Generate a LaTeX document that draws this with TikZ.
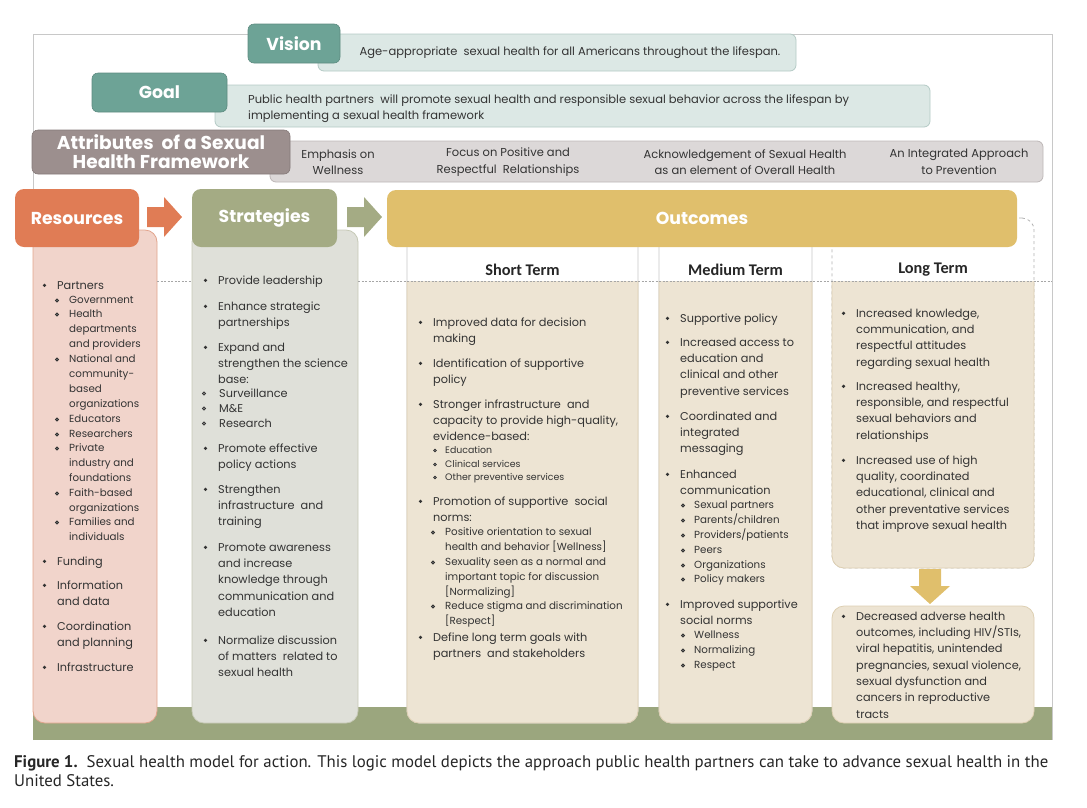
\documentclass[tikz,border=0pt]{standalone}
\usepackage[T1]{fontenc}
\usepackage{fontspec}
\newfontfamily\calib{Carlito}
\newfontfamily\capfont{PT Sans}
\newfontfamily\gfont{Poppins}
\definecolor{cTeal}{HTML}{6DA396}
\definecolor{cTealBox}{HTML}{DCE8E5}
\definecolor{cTealLine}{HTML}{B4CAC5}
\definecolor{cMauve}{HTML}{9C8F8E}
\definecolor{cMauveBox}{HTML}{DCD8D8}
\definecolor{cMauveLine}{HTML}{BDB7B7}
\definecolor{cOrange}{HTML}{E07C55}
\definecolor{cPink}{HTML}{F1D4CB}
\definecolor{cPinkLine}{HTML}{E2A48C}
\definecolor{cOlive}{HTML}{A4AB84}
\definecolor{cSage}{HTML}{DFE0D9}
\definecolor{cSageLine}{HTML}{C6C9B6}
\definecolor{cGold}{HTML}{E0BF6C}
\definecolor{cBeige}{HTML}{EDE4D3}
\definecolor{cBeigeLine}{HTML}{DDCFB2}
\definecolor{cBar}{HTML}{9BA67E}
\definecolor{cFrame}{HTML}{C8C8C8}
\definecolor{txtc}{HTML}{333333}
% main bullet item: name, x, y (centre of the first line), text
\newcommand\Bul[4]{\fill[txtc] (#2-12.5,#3+0.3) circle (1.8);
  \node[txt] (#1) at (#2,#3-6) {\rule{0pt}{10pt}#4};}
% sub item: [bullet offset], name, x, y, text
\newcommand\Sub[5][12]{\draw[txtc, fill=txtc!55, line width=0.8pt] (#3-#1,#4+0.5) circle (1.5);
  \node[stxt] (#2) at (#3,#4-6.3) {\rule{0pt}{10pt}#5};}
% sub item set at main size
\newcommand\SubB[5][15]{\draw[txtc, fill=txtc!55, line width=0.8pt] (#3-#1,#4+0.5) circle (1.6);
  \node[txt] (#2) at (#3,#4-6) {\rule{0pt}{10pt}#5};}
\newcommand\Tin[4]{\draw[txtc, fill=txtc!55, line width=0.7pt] (#2-10,#3+0.5) circle (1.3);
  \node[ttxt] (#1) at (#2,#3-6) {\rule{0pt}{9pt}#4};}
\begin{document}
\begin{tikzpicture}[x=1pt,y=-1pt,
  every node/.style={inner sep=0pt},
  lab/.style={rounded corners=6pt, draw=#1!85!black, line width=0.6pt, fill=#1, text=white,
    font=\gfont\bfseries\fontsize{17.3}{19}\selectfont, align=center},
  hdr/.style={rounded corners=9pt, fill=#1, text=white,
    font=\gfont\bfseries\fontsize{17.3}{19}\selectfont},
  topbox/.style={rounded corners=6pt, draw=#1, line width=0.8pt},
  body/.style={rounded corners=12pt, line width=0.8pt},
  toptxt/.style={text=txtc, font=\gfont\fontsize{11.5}{16.5}\selectfont, align=center},
  txt/.style={anchor=north west, align=left, text=txtc, font=\gfont\fontsize{11.3}{16.3}\selectfont},
  stxt/.style={txt, font=\gfont\fontsize{10.3}{14.8}\selectfont},
  ttxt/.style={txt, font=\gfont\fontsize{9.4}{13.5}\selectfont},
  colt/.style={text=black!85, font=\calib\bfseries\fontsize{16.3}{18}\selectfont},
  sep/.style={draw=black!35, dashed, dash pattern=on 2pt off 1.5pt, line width=0.6pt}
]
\useasboundingbox (0,0) rectangle (1087,807);
% frame and bottom bar
\draw[cFrame, line width=0.8pt] (33,740) -- (33,34) -- (1052,34) -- (1052,740);
\node[fill=cBar, minimum width=1019, minimum height=33] (bar) at (542.5,723.5) {};
% ---------- top section ----------
\node[topbox=cTealLine, fill=cTealBox, minimum width=478, minimum height=37] (visbox) at (557,52.5) {};
\node[lab=cTeal, minimum width=92, minimum height=39] (vision) at (294,43.5) {Vision};
\node[toptxt] (vistxt) at (570,53) {Age-appropriate\ \ sexual health for all Americans throughout the lifespan.};
\node[topbox=cTealLine, fill=cTealBox, minimum width=715, minimum height=42] (goalbox) at (572.5,106) {};
\node[lab=cTeal, minimum width=135, minimum height=39] (goal) at (159.5,92.5) {Goal};
\node[anchor=north west, align=left, text=txtc, font=\gfont\fontsize{11.5}{16}\selectfont] (goaltxt) at (248,93.5) {\rule{0pt}{10pt}Public health partners\ \ will promote sexual health and responsible sexual behavior across the lifespan by\\implementing a sexual health framework};
\node[topbox=cMauveLine, fill=cMauveBox, minimum width=773, minimum height=41] (attrbox) at (656.5,161.5) {};
\node[lab=cMauve, minimum width=258, minimum height=44, font=\gfont\bfseries\fontsize{18.6}{19}\selectfont] (attr) at (161,152) {Attributes\ \ of\ a Sexual\\Health Framework};
\node[toptxt] (a1) at (338,162) {Emphasis on\\Wellness};
\node[toptxt] (a2) at (508,162) {Focus on Positive and\\Respectful\ \ Relationships};
\node[toptxt] (a3) at (745,162) {Acknowledgement of Sexual Health\\as an element of Overall Health};
\node[toptxt] (a4) at (959,162) {An Integrated Approach\\to Prevention};
% ---------- columns ----------
\node[body, draw=cPinkLine, fill=cPink, minimum width=124, minimum height=493] (resbody) at (95,476.5) {};
\node[hdr=cOrange, minimum width=124, minimum height=58] (res) at (77,218) {Resources};
\fill[cOrange] (147,207) -- (164,207) -- (164,197) -- (182,217) -- (164,237) -- (164,227) -- (147,227) -- cycle;
\node[body, draw=cSageLine, fill=cSage, minimum width=166, minimum height=493] (strbody) at (275,476.5) {};
\node[hdr=cOlive, minimum width=145, minimum height=58] (str) at (264.5,218) {Strategies};
\fill[cOlive] (347,207) -- (364,207) -- (364,197) -- (382,217) -- (364,237) -- (364,227) -- (347,227) -- cycle;
% outcome columns
\node[body, draw=black!22, fill=white, minimum width=231, minimum height=505] (stcol) at (522.5,470.5) {};
\node[body, draw=black!22, fill=white, minimum width=153, minimum height=505] (mtcol) at (735.5,470.5) {};
\node[body, draw=black!30, dashed, fill=white, minimum width=202, minimum height=350] (ltcol) at (933,393) {};
\begin{scope}
\clip (0,281.5) rectangle (1087,807);
\node[body, draw=cBeigeLine, fill=cBeige, minimum width=231, minimum height=465] (stbody) at (522.5,490.5) {};
\node[body, draw=cBeigeLine, fill=cBeige, minimum width=153, minimum height=465] (mtbody) at (735.5,490.5) {};
\node[body, draw=cBeigeLine, fill=cBeige, minimum width=202, minimum height=310] (ltbody) at (933,413) {};
\end{scope}
\node[body, draw=cBeigeLine, fill=cBeige, minimum width=202, minimum height=117] (ltbot) at (933,664.5) {};
\fill[cGold] (919,569) -- (941,569) -- (941,586) -- (950,586) -- (930,604) -- (910,586) -- (919,586) -- cycle;
\node[hdr=cGold, minimum width=630, minimum height=57] (out) at (702,218.5) {Outcomes};
\draw[sep] (157,281) -- (192,281);
\draw[sep] (358,281) -- (1052,281);
\node[colt] (sttitle) at (522.5,270) {Short Term};
\node[colt] (mttitle) at (735.5,270) {Medium Term};
\node[colt] (lttitle) at (933,270) {Long Term};
% ---------- Resources ----------
\Bul{r1}{57}{285}{Partners}
\Sub{r1a}{69}{300}{Government}
\Sub{r1b}{69}{314}{Health\\departments\\and providers}
\Sub{r1c}{69}{359}{National and\\community-\\based\\organizations}
\Sub{r1d}{69}{419}{Educators}
\Sub{r1e}{69}{434}{Researchers}
\Sub{r1f}{69}{448}{Private\\industry and\\foundations}
\Sub{r1g}{69}{493}{Faith-based\\organizations}
\Sub{r1h}{69}{522}{Families and\\individuals}
\Bul{r2}{57}{561}{Funding}
\Bul{r3}{57}{585}{Information\\and data}
\Bul{r4}{57}{626}{Coordination\\and planning}
\Bul{r5}{57}{667}{Infrastructure}
% ---------- Strategies ----------
\Bul{s1}{218}{280}{Provide leadership}
\Bul{s2}{218}{306}{Enhance strategic\\partnerships}
\Bul{s3}{218}{347}{Expand and\\strengthen the science\\base:}
\SubB{s3a}{219}{393}{Surveillance}
\SubB{s3b}{219}{408}{M\&E}
\SubB{s3c}{219}{423}{Research}
\Bul{s4}{218}{448}{Promote effective\\policy actions}
\Bul{s5}{218}{489}{Strengthen\\infrastructure\ \ and\\training}
\Bul{s6}{218}{547}{Promote awareness\\and increase\\knowledge through\\communication and\\education}
\Bul{s7}{218}{640}{Normalize discussion\\of matters\ \ related to\\sexual health}
% ---------- Short term ----------
\Bul{t1}{433}{322}{Improved data for decision\\making}
\Bul{t2}{433}{363}{Identification of supportive\\policy}
\Bul{t3}{433}{404}{Stronger infrastructure\ \ and\\capacity to provide high-quality,\\evidence-based:}
\Tin{t3a}{445}{450}{Education}
\Tin{t3b}{445}{464}{Clinical services}
\Tin{t3c}{445}{477}{Other preventive services}
\Bul{t4}{433}{501}{Promotion of supportive\ \ social\\norms:}
\Sub{t4a}{445}{532}{Positive orientation to sexual\\health and behavior [Wellness]}
\Sub{t4b}{445}{562}{Sexuality seen as a normal and\\important topic for discussion\\{[Normalizing]}}
\Sub{t4c}{445}{606}{Reduce stigma and discrimination\\{[Respect]}}
\Bul{t5}{433}{637}{Define long term goals with\\partners\ \ and stakeholders}
% ---------- Medium term ----------
\Bul{m1}{680}{318}{Supportive policy}
\Bul{m2}{680}{342}{Increased access to\\education and\\clinical and other\\preventive services}
\Bul{m3}{680}{416}{Coordinated and\\integrated\\messaging}
\Bul{m4}{680}{474}{Enhanced\\communication}
\Sub[11]{m4a}{694}{505}{Sexual partners}
\Sub[11]{m4b}{694}{520}{Parents/children}
\Sub[11]{m4c}{694}{535}{Providers/patients}
\Sub[11]{m4d}{694}{550}{Peers}
\Sub[11]{m4e}{694}{565}{Organizations}
\Sub[11]{m4f}{694}{579}{Policy makers}
\Bul{m5}{680}{604}{Improved supportive\\social norms}
\Sub[11]{m5a}{694}{635}{Wellness}
\Sub[11]{m5b}{694}{650}{Normalizing}
\Sub[11]{m5c}{694}{665}{Respect}
% ---------- Long term ----------
\Bul{l1}{856}{313}{Increased knowledge,\\communication, and\\respectful attitudes\\regarding sexual health}
\Bul{l2}{856}{386}{Increased healthy,\\responsible, and respectful\\sexual behaviors and\\relationships}
\Bul{l3}{856}{460}{Increased use of high\\quality, coordinated\\educational, clinical and\\other preventative services\\that improve sexual health}
\Bul{l4}{856}{616}{Decreased adverse health\\outcomes, including HIV/STIs,\\viral hepatitis, unintended\\pregnancies, sexual violence,\\sexual dysfunction and\\cancers in reproductive\\tracts}
% ---------- caption ----------
\node[anchor=north west, align=left, text=black!85, font=\capfont\fontsize{16.8}{19.5}\selectfont] (cap) at (14,755) {\rule{0pt}{12pt}\textbf{Figure 1.}\ \ Sexual health model for action. This logic model depicts the approach public health partners can take to advance sexual health in the\\United States.};
\end{tikzpicture}
\end{document}
